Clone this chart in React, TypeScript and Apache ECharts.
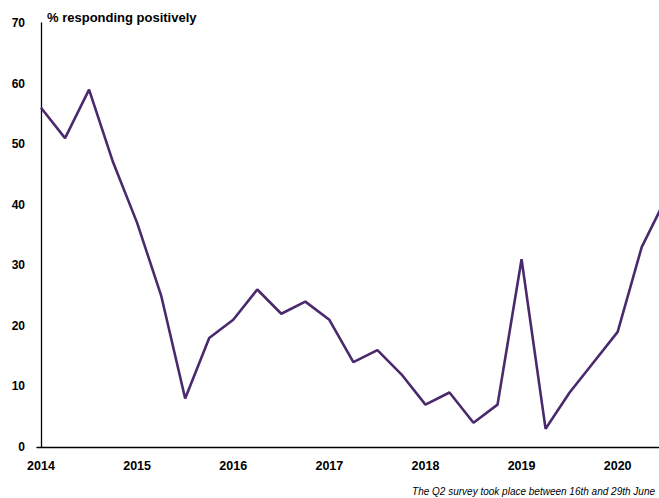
import React, { useEffect, useRef } from "react";
import * as echarts from "echarts";

const years = ["2014", "2015", "2016", "2017", "2018", "2019", "2020"];
const quarters = [
  "2014 Q1", "2014 Q2", "2014 Q3", "2014 Q4",
  "2015 Q1", "2015 Q2", "2015 Q3", "2015 Q4",
  "2016 Q1", "2016 Q2", "2016 Q3", "2016 Q4",
  "2017 Q1", "2017 Q2", "2017 Q3", "2017 Q4",
  "2018 Q1", "2018 Q2", "2018 Q3", "2018 Q4",
  "2019 Q1", "2019 Q2", "2019 Q3", "2019 Q4",
  "2020 Q1", "2020 Q2", "2020 Q3",
];
const positive = [
  56, 51, 59, 47,
  37, 25, 8, 18,
  21, 26, 22, 24,
  21, 14, 16, 12,
  7, 9, 4, 7,
  31, 3, 9, 14,
  19, 33, 41,
];
const yTicks = [0, 10, 20, 30, 40, 50, 60, 70];
const titleText = "% responding positively";
const noteText = "The Q2 survey took place between 16th and 29th June";

export default function App() {
  const ref = useRef<HTMLDivElement>(null);
  useEffect(() => {
    if (!ref.current) return;
    const chart = echarts.init(ref.current, null, { renderer: "svg" });
    const data = positive.map((v, i) => [i, v, quarters[i]]);
    chart.setOption({
      animation: false,
      backgroundColor: "#ffffff",
      textStyle: { fontFamily: "Liberation Sans, Arial, sans-serif" },
      grid: { left: 37, right: 0, top: 23, bottom: 51, containLabel: false },
      title: [
        {
          text: titleText,
          left: 47,
          top: 11,
          padding: 0,
          textStyle: { fontSize: 13, fontWeight: "bold", color: "#000", fontFamily: "Liberation Sans, Arial, sans-serif" },
        },
        {
          text: noteText,
          right: 4,
          bottom: 2,
          padding: 0,
          textStyle: { fontSize: 10, fontStyle: "italic", fontWeight: "normal", color: "#000", fontFamily: "Liberation Sans, Arial, sans-serif" },
        },
      ],
      xAxis: {
        type: "value",
        min: -0.167,
        max: 25.72,
        splitLine: { show: false },
        axisLine: { show: true, onZero: false, lineStyle: { color: "#000", width: 1.3 } },
        axisTick: { show: false },
        axisLabel: {
          customValues: years.map((_, i) => i * 4),
          formatter: (v: number) => years[Math.round(v / 4)] ?? "",
          margin: 12,
          fontSize: 12.5,
          fontWeight: "bold",
          color: "#000",
          showMinLabel: true,
          showMaxLabel: true,
        },
      },
      yAxis: {
        type: "value",
        min: yTicks[0],
        max: yTicks[yTicks.length - 1],
        interval: 10,
        splitLine: { show: false },
        axisLine: { show: true, lineStyle: { color: "#000", width: 1.3 } },
        axisTick: { show: false },
        axisLabel: { margin: 12, fontSize: 12, fontWeight: "bold", color: "#000" },
      },
      series: [
        {
          type: "line",
          data,
          symbol: "none",
          clip: true,
          lineStyle: { color: "#4a2a6c", width: 2.6 },
        },
      ],
    });
    return () => chart.dispose();
  }, []);
  return (
    <div
      ref={ref}
      style={{ position: "fixed", left: 0, top: 0, width: 659, height: 498, background: "#fff" }}
    />
  );
}
